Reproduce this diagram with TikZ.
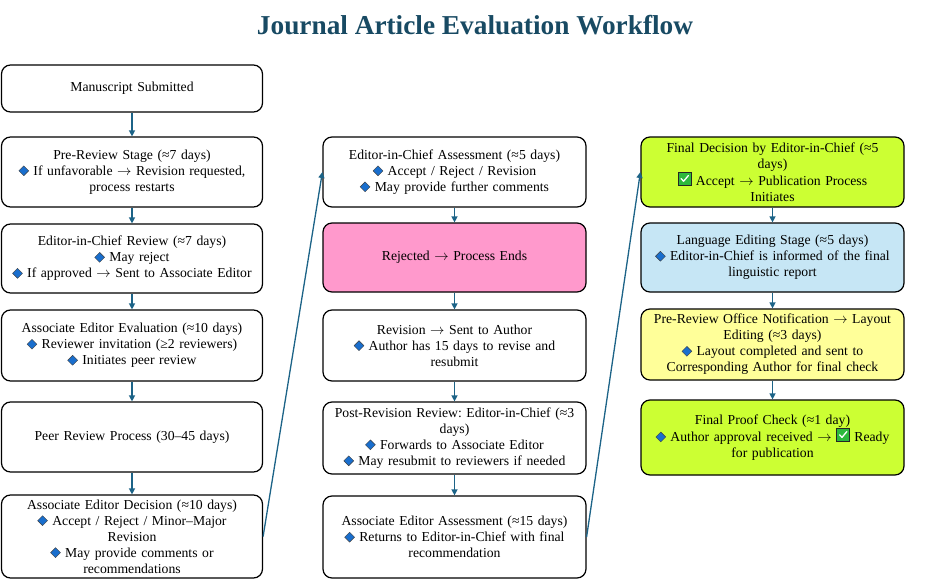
\documentclass[tikz,border=0pt]{standalone}
\usepackage{fontspec}
\setmainfont{Liberation Serif}
\usetikzlibrary{arrows.meta}
\hyphenpenalty=10000
\exhyphenpenalty=10000
\frenchspacing
\definecolor{titlec}{RGB}{24,74,99}
\definecolor{arrowc}{RGB}{28,99,135}
\definecolor{diablue}{RGB}{25,110,205}
\definecolor{chkgreen}{RGB}{45,185,60}
\definecolor{limec}{RGB}{204,255,51}
\definecolor{pinkc}{RGB}{255,153,204}
\definecolor{bluec}{RGB}{198,230,245}
\definecolor{yellowc}{RGB}{255,255,153}
\newcommand{\dia}{\tikz[baseline=0pt,sharp corners]\filldraw[fill=diablue,draw=black!75,line width=0.4pt,sharp corners] (-0.36em,0.33em) -- (0,0.69em) -- (0.36em,0.33em) -- (0,-0.03em) -- cycle;}
\newcommand{\chk}{\tikz[baseline=-0.12em,sharp corners]{\filldraw[fill=chkgreen,draw=black!85,line width=0.5pt,sharp corners] (0,-0.12em) rectangle (0.95em,0.83em);\draw[white,line width=1.3pt,line cap=round,line join=round,sharp corners] (0.22em,0.37em) -- (0.4em,0.18em) -- (0.75em,0.6em);}}
\newcommand{\arr}{\ensuremath{\rightarrow}}
\tikzset{
  stage/.style={draw=black, line width=1.2pt, rounded corners=9pt, fill=white,
    align=center, text width=252pt, inner xsep=3pt, inner ysep=2pt,
    font=\fontsize{13.7}{16}\selectfont},
  col1/.style={stage, minimum width=261pt},
  col2/.style={stage, minimum width=263pt},
  flow/.style={draw=arrowc, line width=1.3pt, -{Triangle[width=6pt,length=6pt]}},
}
\begin{document}
\begin{tikzpicture}[x=1pt,y=-1pt]
\useasboundingbox (0,0) rectangle (950,586);
\node[font=\fontsize{27.3}{32}\selectfont\bfseries, text=titlec] (title) at (475,25) {Journal Article Evaluation Workflow};

% column 1
\node[col1, minimum height=47pt] (a1) at (132,88.5) {Manuscript Submitted};
\node[col1, minimum height=70pt] (a2) at (132,172) {Pre-Review Stage (≈7 days)\\ \dia{} If unfavorable \arr{} Revision requested,\\ process restarts};
\node[col1, minimum height=69pt] (a3) at (132,258.5) {Editor-in-Chief Review (≈7 days)\\ \dia{} May reject\\ \dia{} If approved \arr{} Sent to Associate Editor};
\node[col1, minimum height=71pt] (a4) at (132,345.5) {Associate Editor Evaluation (≈10 days)\\ \dia{} Reviewer invitation (≥2 reviewers)\\ \dia{} Initiates peer review};
\node[col1, minimum height=70pt] (a5) at (132,437) {Peer Review Process (30–45 days)};
\node[col1, minimum height=83pt] (a6) at (132,536.5) {Associate Editor Decision (≈10 days)\\ \dia{} Accept / Reject / Minor–Major\\ Revision\\ \dia{} May provide comments or\\ recommendations};

% column 2
\node[col2, minimum height=70pt] (b1) at (454.5,172) {Editor-in-Chief Assessment (≈5 days)\\ \dia{} Accept / Reject / Revision\\ \dia{} May provide further comments};
\node[col2, minimum height=69pt, fill=pinkc] (b2) at (454.5,257.5) {Rejected \arr{} Process Ends};
\node[col2, minimum height=71pt] (b3) at (454.5,345.5) {Revision \arr{} Sent to Author\\ \dia{} Author has 15 days to revise and\\ resubmit};
\node[col2, minimum height=72pt] (b4) at (454.5,438) {Post-Revision Review: Editor-in-Chief (≈3\\ days)\\ \dia{} Forwards to Associate Editor\\ \dia{} May resubmit to reviewers if needed};
\node[col2, minimum height=82pt] (b5) at (454.5,537) {Associate Editor Assessment (≈15 days)\\ \dia{} Returns to Editor-in-Chief with final\\ recommendation};

% column 3
\node[col2, minimum height=70pt, fill=limec] (c1) at (772.5,172) {Final Decision by Editor-in-Chief (≈5\\ days)\\ \chk{} Accept \arr{} Publication Process\\ Initiates};
\node[col2, minimum height=69pt, fill=bluec] (c2) at (772.5,257.5) {Language Editing Stage (≈5 days)\\ \dia{} Editor-in-Chief is informed of the final\\ linguistic report};
\node[col2, minimum height=71pt, fill=yellowc] (c3) at (772.5,344.5) {Pre-Review Office Notification \arr{} Layout\\ Editing (≈3 days)\\ \dia{} Layout completed and sent to\\ Corresponding Author for final check};
\node[col2, minimum height=75pt, fill=limec] (c4) at (772.5,437.5) {Final Proof Check (≈1 day)\\ \dia{} Author approval received \arr{} \chk{} Ready\\ for publication};

% connectors
\draw[flow] (a1) -- (a2);
\draw[flow] (a2) -- (a3);
\draw[flow] (a3) -- (a4);
\draw[flow] (a4) -- (a5);
\draw[flow] (a5) -- (a6);
\draw[flow] (a6.east) -- (b1.west);
\draw[flow] (b1) -- (b2);
\draw[flow] (b2) -- (b3);
\draw[flow] (b3) -- (b4);
\draw[flow] (b4) -- (b5);
\draw[flow] (b5.east) -- (c1.west);
\draw[flow] (c1) -- (c2);
\draw[flow] (c2) -- (c3);
\draw[flow] (c3) -- (c4);
\end{tikzpicture}
\end{document}
